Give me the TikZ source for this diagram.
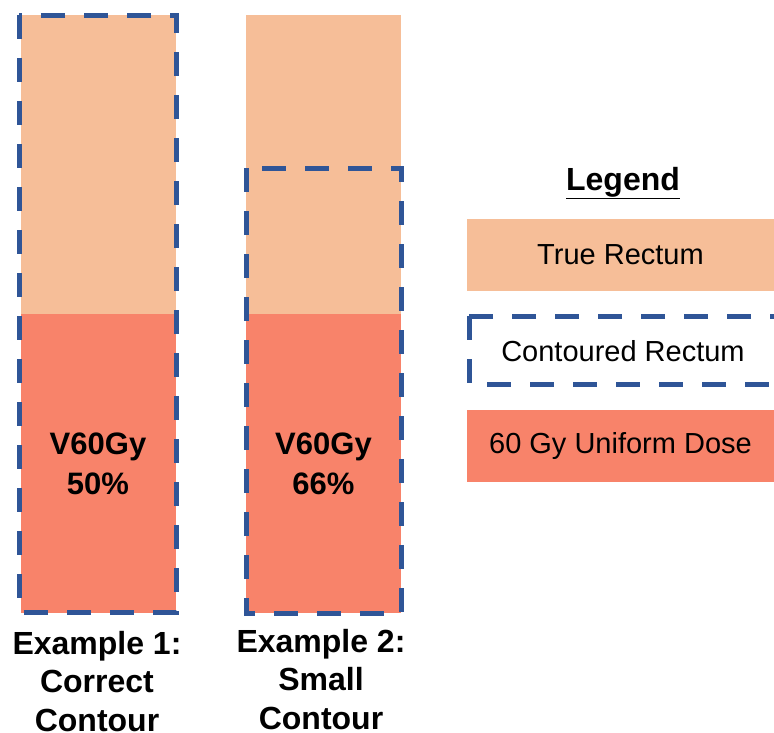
\documentclass[tikz,border=0pt]{standalone}
\usepackage{fontspec}
\setmainfont{Liberation Sans}
\usepackage{tikz}
\usetikzlibrary{positioning}

\definecolor{peach}{HTML}{F6BE98}
\definecolor{salmon}{HTML}{F8836A}
\definecolor{contblue}{HTML}{2F5597}

\begin{document}
\begin{tikzpicture}[x=1pt, y=-1pt,
    part/.style={rectangle, draw=none, inner sep=0pt, minimum width=155pt, minimum height=299pt},
    % dashed outline used for the contoured rectum
    contour/.style={draw=contblue, line width=5pt, dash pattern=on 24pt off 19pt},
    legbox/.style={rectangle, inner sep=0pt, minimum width=307pt, minimum height=72pt, font=\fontsize{29}{32}\selectfont},
    bigtxt/.style={font=\bfseries\fontsize{31}{40}\selectfont, align=center},
    caption/.style={font=\bfseries\fontsize{32}{38.5}\selectfont, align=center, inner sep=0pt}
  ]
    \useasboundingbox (0,0) rectangle (774,732);

    %--- Example 1 ---
    \node[part, fill=peach] (trueA) at (98,164.5) {};
    \node[part, fill=salmon, bigtxt] (doseA) at (98,463.5) {V60Gy\\50\%};
    \draw[contour] (19,15) rectangle (176,612);

    %--- Example 2 ---
    \node[part, fill=peach] (trueB) at (323.5,164.5) {};
    \node[part, fill=salmon, bigtxt] (doseB) at (323.5,463.5) {V60Gy\\66\%};
    \coordinate (cutB) at (246,168);
    \draw[contour] (cutB) rectangle (doseB.south east);

    % captions (base = last line)
    \node[caption, anchor=base] (capA) at (97,731) {Example 1:\\Correct\\Contour};
    \node[caption, anchor=base] (capB) at (321,729) {Example 2:\\Small\\Contour};

    %--- Legend ---
    \node[font=\bfseries\fontsize{32}{36}\selectfont] (legTitle) at (623,183) {\underline{Legend}};
    \node[legbox, fill=peach] (legTrue) at (620.5,255) {True Rectum};
    \node[legbox] (legCont) at (623,351) {Contoured Rectum};
    \draw[contour] (469,316) rectangle (800,384);
    \node[legbox, fill=salmon] (legDose) at (620.5,446) {60 Gy Uniform Dose};
\end{tikzpicture}
\end{document}
